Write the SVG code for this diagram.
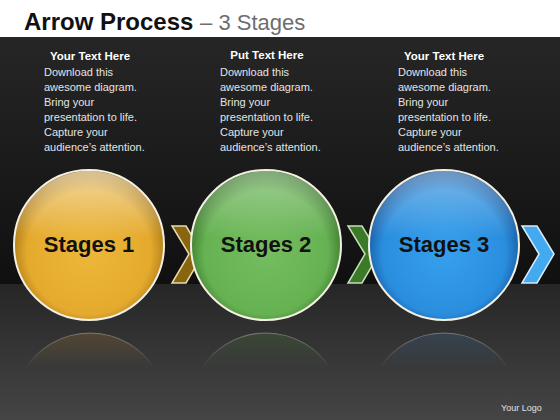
<svg xmlns="http://www.w3.org/2000/svg" width="560" height="420" viewBox="0 0 560 420">
<defs>
<linearGradient id="bgTop" x1="0" y1="0" x2="0" y2="1"><stop offset="0" stop-color="#262626"/><stop offset="1" stop-color="#101010"/></linearGradient>
<linearGradient id="bgBot" x1="0" y1="0" x2="0" y2="1"><stop offset="0" stop-color="#262626"/><stop offset="1" stop-color="#454545"/></linearGradient>
<radialGradient id="gOrange" cx="0.5" cy="0.55" r="0.55"><stop offset="0" stop-color="#eeb73a"/><stop offset="0.75" stop-color="#e4aa2e"/><stop offset="1" stop-color="#a07010"/></radialGradient>
<radialGradient id="gGreen" cx="0.5" cy="0.55" r="0.55"><stop offset="0" stop-color="#74bd60"/><stop offset="0.75" stop-color="#66b252"/><stop offset="1" stop-color="#346f26"/></radialGradient>
<radialGradient id="gBlue" cx="0.5" cy="0.55" r="0.55"><stop offset="0" stop-color="#36a0ee"/><stop offset="0.75" stop-color="#2a8ede"/><stop offset="1" stop-color="#134f94"/></radialGradient>
<linearGradient id="shine" x1="0" y1="0" x2="0" y2="1"><stop offset="0" stop-color="#fff" stop-opacity="0.55"/><stop offset="0.45" stop-color="#fff" stop-opacity="0"/></linearGradient>
<linearGradient id="refl" x1="0" y1="0" x2="0" y2="1"><stop offset="0" stop-color="#fff" stop-opacity="0.3"/><stop offset="1" stop-color="#fff" stop-opacity="0"/></linearGradient>
<linearGradient id="reflO" x1="0" y1="0" x2="0" y2="1"><stop offset="0" stop-color="#a07838" stop-opacity="0.3"/><stop offset="1" stop-color="#a07838" stop-opacity="0"/></linearGradient>
<linearGradient id="reflG" x1="0" y1="0" x2="0" y2="1"><stop offset="0" stop-color="#4e7a40" stop-opacity="0.3"/><stop offset="1" stop-color="#4e7a40" stop-opacity="0"/></linearGradient>
<linearGradient id="reflB" x1="0" y1="0" x2="0" y2="1"><stop offset="0" stop-color="#3e6488" stop-opacity="0.35"/><stop offset="1" stop-color="#3e6488" stop-opacity="0"/></linearGradient>
</defs>
<style>
.title{font-family:"Liberation Sans",Arial,sans-serif;font-weight:bold;font-size:24px;fill:#111}
.sub{font-family:"Liberation Sans",Arial,sans-serif;font-size:22px;fill:#6e6e6e}
.head{font-family:"Liberation Sans",Arial,sans-serif;font-weight:bold;font-size:11.5px;fill:#fff;text-anchor:middle}
.body{font-family:"Liberation Sans",Arial,sans-serif;font-size:11px;fill:#e4e4e4}
.stage{font-family:"Liberation Sans",Arial,sans-serif;font-weight:bold;font-size:22px;fill:#111;text-anchor:middle}
.ring{stroke:#f4f0e4;stroke-width:2}
.chev{stroke-width:1.5;stroke-linejoin:miter}
.logo{font-family:"Liberation Sans",Arial,sans-serif;font-size:9px;fill:#e0e0e0}
</style>
<rect x="0" y="0" width="560" height="420" fill="#fff"/>
<rect x="0" y="37" width="560" height="247" fill="url(#bgTop)"/>
<rect x="0" y="284" width="560" height="136" fill="url(#bgBot)"/>
<text x="24" y="30" class="title">Arrow Process <tspan class="sub" font-weight="normal" fill="#6e6e6e">– 3 Stages</tspan></text>

<g id="text1">
<text x="90" y="60" class="head">Your Text Here</text>
<text class="body"><tspan x="44" y="76">Download this</tspan><tspan x="44" y="91">awesome diagram.</tspan><tspan x="44" y="106">Bring your</tspan><tspan x="44" y="121">presentation to life.</tspan><tspan x="44" y="136">Capture your</tspan><tspan x="44" y="151">audience’s attention.</tspan></text>
</g>
<g id="text2">
<text x="267" y="59" class="head">Put Text Here</text>
<text class="body"><tspan x="220" y="76">Download this</tspan><tspan x="220" y="91">awesome diagram.</tspan><tspan x="220" y="106">Bring your</tspan><tspan x="220" y="121">presentation to life.</tspan><tspan x="220" y="136">Capture your</tspan><tspan x="220" y="151">audience’s attention.</tspan></text>
</g>
<g id="text3">
<text x="444" y="60" class="head">Your Text Here</text>
<text class="body"><tspan x="398" y="76">Download this</tspan><tspan x="398" y="91">awesome diagram.</tspan><tspan x="398" y="106">Bring your</tspan><tspan x="398" y="121">presentation to life.</tspan><tspan x="398" y="136">Capture your</tspan><tspan x="398" y="151">audience’s attention.</tspan></text>
</g>

<g id="reflections">
<path d="M26,368 A76,76 0 0 1 154,368 Z" fill="url(#reflO)"/>
<path d="M26,368 A76,76 0 0 1 154,368" fill="none" stroke="url(#refl)" stroke-width="1.2"/>
<path d="M202,368 A76,76 0 0 1 330,368 Z" fill="url(#reflG)"/>
<path d="M202,368 A76,76 0 0 1 330,368" fill="none" stroke="url(#refl)" stroke-width="1.2"/>
<path d="M380,368 A76,76 0 0 1 508,368 Z" fill="url(#reflB)"/>
<path d="M380,368 A76,76 0 0 1 508,368" fill="none" stroke="url(#refl)" stroke-width="1.2"/>
</g>

<g id="connectors">
<polygon class="chev" points="172,226 186,226 203,254 186,283 172,283 189,254" fill="#8a6510" stroke="#eadcae"/>
<polygon class="chev" points="348,226 362,226 379,254 362,283 348,283 365,254" fill="#3a7a28" stroke="#c8e0b8"/>
<polygon class="chev" points="522,226 537,226 554,254 537,283 522,283 539,254" fill="#44aaf0" stroke="#d8ecfa"/>
</g>

<g id="stage1">
<circle cx="89" cy="245" r="75" fill="url(#gOrange)"/>
<circle cx="89" cy="245" r="74" fill="url(#shine)"/>
<circle cx="89" cy="245" r="75" fill="none" class="ring"/>
<text x="89" y="252" class="stage">Stages 1</text>
</g>
<g id="stage2">
<circle cx="266" cy="245" r="75" fill="url(#gGreen)"/>
<circle cx="266" cy="245" r="74" fill="url(#shine)" opacity="0.7"/>
<circle cx="266" cy="245" r="75" fill="none" class="ring"/>
<text x="266" y="252" class="stage">Stages 2</text>
</g>
<g id="stage3">
<circle cx="444" cy="245" r="75" fill="url(#gBlue)"/>
<circle cx="444" cy="245" r="74" fill="url(#shine)" opacity="0.7"/>
<circle cx="444" cy="245" r="75" fill="none" class="ring"/>
<text x="444" y="252" class="stage">Stages 3</text>
</g>

<text x="501" y="411" class="logo">Your Logo</text>
</svg>
